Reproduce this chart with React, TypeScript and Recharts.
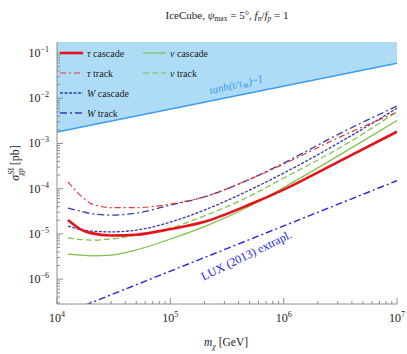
import { Area, ComposedChart, Legend, Line, XAxis, YAxis } from 'recharts';

const massGrid = [1.25e4, 1.6e4, 2e4, 3e4, 5e4, 1e5, 2e5, 5e5, 1e6, 3e6, 1e7];

// sigma_SI [pb]
const tauCascade = [2.02e-5, 1.28e-5, 1.04e-5, 9.2e-6, 9.6e-6, 1.28e-5, 1.85e-5, 4.45e-5, 9.55e-5, 3.88e-4, 1.82e-3];
const tauTrack = [1.42e-4, 7.2e-5, 4.68e-5, 3.82e-5, 3.82e-5, 4.56e-5, 6.6e-5, 1.61e-4, 3.5e-4, 1.32e-3, 4.9e-3];
const wCascade = [1.49e-5, 1.25e-5, 1.15e-5, 1.11e-5, 1.21e-5, 1.82e-5, 3.37e-5, 9.3e-5, 2.21e-4, 1.0e-3, 5.98e-3];
const wTrack = [3.72e-5, 3.19e-5, 2.81e-5, 2.61e-5, 2.88e-5, 4.34e-5, 6.6e-5, 1.61e-4, 3.68e-4, 1.57e-3, 6.7e-3];
const nuCascade = [3.57e-6, 3.4e-6, 3.27e-6, 3.4e-6, 4.4e-6, 7.7e-6, 1.45e-5, 4.08e-5, 1.06e-4, 5.24e-4, 3.21e-3];
const nuTrack = [8.2e-6, 7.5e-6, 7.3e-6, 7.7e-6, 9.4e-6, 1.34e-5, 2.51e-5, 6.8e-5, 1.72e-4, 7.52e-4, 5.0e-3];

// tanh(t/tau) ~ 1 boundary and LUX extrapolation
const boundaryMass = [1e4, 1e7];
const boundaryValue = [1.8e-3, 5.9e-2];
const luxMass = [1e4, 1e7];
const luxValue = [1.5e-7, 1.5e-4];

const xTicks = [
  1e4, 2e4, 3e4, 4e4, 5e4, 6e4, 7e4, 8e4, 9e4,
  1e5, 2e5, 3e5, 4e5, 5e5, 6e5, 7e5, 8e5, 9e5,
  1e6, 2e6, 3e6, 4e6, 5e6, 6e6, 7e6, 8e6, 9e6, 1e7,
];
const yTicks = [
  3e-7, 4e-7, 5e-7, 6e-7, 7e-7, 8e-7, 9e-7,
  1e-6, 2e-6, 3e-6, 4e-6, 5e-6, 6e-6, 7e-6, 8e-6, 9e-6,
  1e-5, 2e-5, 3e-5, 4e-5, 5e-5, 6e-5, 7e-5, 8e-5, 9e-5,
  1e-4, 2e-4, 3e-4, 4e-4, 5e-4, 6e-4, 7e-4, 8e-4, 9e-4,
  1e-3, 2e-3, 3e-3, 4e-3, 5e-3, 6e-3, 7e-3, 8e-3, 9e-3,
  1e-2, 2e-2, 3e-2, 4e-2, 5e-2, 6e-2, 7e-2, 8e-2, 9e-2,
  1e-1,
];

const X_DOMAIN = [1e4, 1e7];
const Y_DOMAIN = [Math.pow(10, -6.55), Math.pow(10, -0.757)];

const SERIF = '"Liberation Serif", "DejaVu Serif", serif';
const FRAME = '#8c8c8c';
const RED = '#e3141b';
const NAVY = '#3a3aad';
const GREEN = '#7cc24a';

const rows = (ms: number[], vs: number[]) => ms.map((m, i) => ({ m, v: vs[i] }));

const series = [
  { key: 'nuTrack', sym: 'ν', kind: 'track', values: nuTrack, color: GREEN, width: 1.2, dash: '6 3' },
  { key: 'nuCascade', sym: 'ν', kind: 'cascade', values: nuCascade, color: GREEN, width: 1.2, dash: undefined },
  { key: 'wCascade', sym: 'W', kind: 'cascade', values: wCascade, color: NAVY, width: 1.3, dash: '3 1.5' },
  { key: 'wTrack', sym: 'W', kind: 'track', values: wTrack, color: NAVY, width: 1.3, dash: '7 3 2 3' },
  { key: 'tauTrack', sym: 'τ', kind: 'track', values: tauTrack, color: '#e8383c', width: 1.2, dash: '6 3 2 3' },
  { key: 'tauCascade', sym: 'τ', kind: 'cascade', values: tauCascade, color: RED, width: 2.6, dash: undefined },
];

const legendCols = [
  ['tauCascade', 'tauTrack', 'wCascade', 'wTrack'],
  ['nuCascade', 'nuTrack'],
];

const isDecade = (v: number) => Math.abs(Math.log10(v) - Math.round(Math.log10(v))) < 1e-6;
const expOf = (v: number) => {
  const e = Math.round(Math.log10(v));
  return e < 0 ? `\u2212${-e}` : `${e}`;
};

function BottomTick({ x, y, payload }: any) {
  const major = isDecade(payload.value);
  return (
    <g>
      <line x1={x} x2={x} y1={y} y2={y - (major ? 6 : 3)} stroke={FRAME} />
      {major && (
        <text x={x} y={y + 18} textAnchor="middle" fontSize={12} fontFamily={SERIF} fill="#222">
          10<tspan dy={-5} fontSize={8}>{expOf(payload.value)}</tspan>
        </text>
      )}
    </g>
  );
}

function TopTick({ x, y, payload }: any) {
  const major = isDecade(payload.value);
  return <line x1={x} x2={x} y1={y} y2={y + (major ? 6 : 3)} stroke={FRAME} />;
}

function LeftTick({ x, y, payload }: any) {
  const major = isDecade(payload.value);
  return (
    <g>
      <line x1={x} x2={x + (major ? 6 : 3)} y1={y} y2={y} stroke={FRAME} />
      {major && (
        <text x={x - 8} y={y + 4} textAnchor="end" fontSize={12} fontFamily={SERIF} fill="#222">
          10<tspan dy={-5} fontSize={8}>{expOf(payload.value)}</tspan>
        </text>
      )}
    </g>
  );
}

function RightTick({ x, y, payload }: any) {
  const major = isDecade(payload.value);
  return <line x1={x} x2={x - (major ? 6 : 3)} y1={y} y2={y} stroke={FRAME} />;
}

function LegendBox() {
  return (
    <svg width={200} height={82} style={{ display: 'block' }}>
      {legendCols.map((col, ci) =>
        col.map((k, ri) => {
          const s = series.find((d) => d.key === k)!;
          const x0 = ci === 0 ? 2 : 85;
          const cy = 10 + ri * 20;
          return (
            <g key={k}>
              <line
                x1={x0}
                x2={x0 + 23}
                y1={cy}
                y2={cy}
                stroke={s.color}
                strokeWidth={s.width}
                strokeDasharray={s.dash}
              />
              <text x={x0 + 27} y={cy + 3.5} fontSize={10} fontFamily={SERIF} fill="#222">
                <tspan fontStyle="italic">{s.sym}</tspan> {s.kind}
              </text>
            </g>
          );
        }),
      )}
    </svg>
  );
}

export default function App() {
  const bandRows = rows(boundaryMass, boundaryValue);
  return (
    <div style={{ position: 'absolute', left: 0, top: 0, width: 407, height: 354, background: '#fff' }}>
      <ComposedChart width={407} height={354} margin={{ top: 42, right: 10, bottom: 0, left: 0 }}>
        <XAxis
          dataKey="m"
          type="number"
          scale="log"
          domain={X_DOMAIN}
          allowDataOverflow
          ticks={xTicks}
          interval={0}
          tickSize={0}
          tickMargin={0}
          tickLine={false}
          axisLine={{ stroke: FRAME }}
          tick={(p: any) => <BottomTick {...p} />}
          height={50}
        />
        <XAxis
          xAxisId="top"
          orientation="top"
          dataKey="m"
          type="number"
          scale="log"
          domain={X_DOMAIN}
          allowDataOverflow
          ticks={xTicks}
          interval={0}
          tickSize={0}
          tickMargin={0}
          tickLine={false}
          axisLine={{ stroke: FRAME }}
          tick={(p: any) => <TopTick {...p} />}
          height={0}
        />
        <YAxis
          type="number"
          scale="log"
          domain={Y_DOMAIN}
          allowDataOverflow
          ticks={yTicks}
          interval={0}
          tickSize={0}
          tickMargin={0}
          tickLine={false}
          axisLine={{ stroke: FRAME }}
          tick={(p: any) => <LeftTick {...p} />}
          width={57}
        />
        <YAxis
          yAxisId="right"
          orientation="right"
          type="number"
          scale="log"
          domain={Y_DOMAIN}
          allowDataOverflow
          ticks={yTicks}
          interval={0}
          tickSize={0}
          tickMargin={0}
          tickLine={false}
          axisLine={{ stroke: FRAME }}
          tick={(p: any) => <RightTick {...p} />}
          width={0}
        />
        <Area
          data={bandRows}
          dataKey="v"
          baseValue="dataMax"
          type="linear"
          fill="#aedcf7"
          fillOpacity={1}
          stroke="none"
          isAnimationActive={false}
        />
        <Line
          data={bandRows}
          dataKey="v"
          type="linear"
          stroke="#3b9bf0"
          strokeWidth={1.5}
          dot={false}
          isAnimationActive={false}
          legendType="none"
        />
        <Line
          data={rows(luxMass, luxValue)}
          dataKey="v"
          type="linear"
          stroke="#2424e0"
          strokeWidth={1.4}
          strokeDasharray="7 3 2 3"
          dot={false}
          isAnimationActive={false}
          legendType="none"
        />
        {series.map((s) => (
          <Line
            key={s.key}
            data={rows(massGrid, s.values)}
            dataKey="v"
            name={`${s.sym} ${s.kind}`}
            type="monotone"
            stroke={s.color}
            strokeWidth={s.width}
            strokeDasharray={s.dash}
            dot={false}
            isAnimationActive={false}
          />
        ))}
        <Legend
          layout="horizontal"
          verticalAlign="middle"
          align="center"
          content={() => <LegendBox />}
          wrapperStyle={{ position: 'absolute', left: 58, top: 43, width: 200, height: 82 }}
        />
      </ComposedChart>

      <svg
        width={407}
        height={354}
        style={{ position: 'absolute', left: 0, top: 0, pointerEvents: 'none' }}
        fontFamily={SERIF}
      >
        <text x={227} y={19} textAnchor="middle" fontSize={11} fill="#222">
          IceCube, <tspan fontStyle="italic">ψ</tspan>
          <tspan dy={2} fontSize={7.5}>max</tspan>
          <tspan dy={-2}> = 5°, </tspan>
          <tspan fontStyle="italic">f</tspan>
          <tspan dy={2} fontSize={7.5} fontStyle="italic">n</tspan>
          <tspan dy={-2}>/</tspan>
          <tspan fontStyle="italic">f</tspan>
          <tspan dy={2} fontSize={7.5} fontStyle="italic">p</tspan>
          <tspan dy={-2}> = 1</tspan>
        </text>
        <text x={226} y={346} textAnchor="middle" fontSize={11.5} fill="#222">
          <tspan fontStyle="italic">m</tspan>
          <tspan dy={2.5} fontSize={8} fontStyle="italic">χ</tspan>
          <tspan dy={-2.5}> [GeV]</tspan>
        </text>
        <text transform="translate(19,163) rotate(-90)" textAnchor="middle" fontSize={12} fill="#222">
          <tspan fontStyle="italic">σ</tspan>
          <tspan dy={-5} fontSize={8}>SI</tspan>
          <tspan dx={-8} dy={9} fontSize={8} fontStyle="italic">χp</tspan>
          <tspan dy={-4}> [pb]</tspan>
        </text>
        <text
          transform="translate(237,88) rotate(-13)"
          textAnchor="middle"
          fontSize={11}
          fill="#3b9bf0"
          fontStyle="italic"
        >
          tanh(t/τ<tspan dy={2} fontSize={7.5}>⊕</tspan>
          <tspan dy={-2}>)~1</tspan>
        </text>
        <text transform="translate(248,259) rotate(-26)" textAnchor="middle" fontSize={12} fill="#2424e0">
          LUX (2013) extrapl.
        </text>
      </svg>
    </div>
  );
}
